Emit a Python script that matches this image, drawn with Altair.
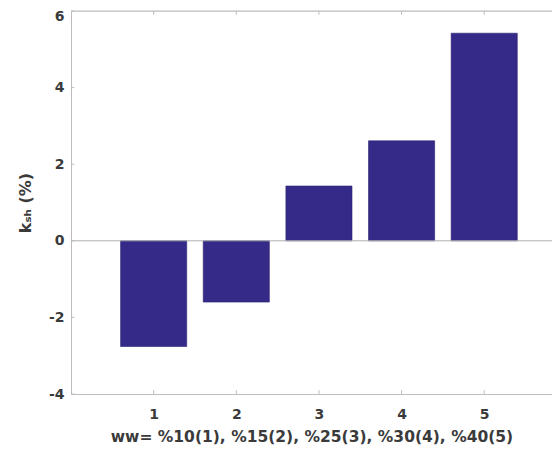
import altair as alt
import pandas as pd

categories = [1, 2, 3, 4, 5]
values = [-2.76, -1.60, 1.43, 2.61, 5.42]
y_ticks = [-4, -2, 0, 2, 4, 6]
x_ticks = [1, 2, 3, 4, 5]

XMIN, XMAX = 0, 5.82
YMIN, YMAX = -4, 6
BAR_COLOR = "#352A87"
AXIS_COLOR = "#bdbdbd"
TEXT_COLOR = "#3a3a3a"
FONT = "DejaVu Sans"

df = pd.DataFrame({"k": categories, "v": values})

xscale = alt.Scale(domain=[XMIN, XMAX], nice=False, zero=False)
yscale = alt.Scale(domain=[YMIN, YMAX], nice=False)

bars = alt.Chart(df).transform_calculate(
    x0="datum.k - 0.4", x1="datum.k + 0.4"
).mark_bar(color=BAR_COLOR, stroke="#2a2270", strokeWidth=0.6).encode(
    x=alt.X("x0:Q", scale=xscale,
            axis=alt.Axis(values=x_ticks, grid=False, ticks=False, format="d",
                          domainColor=AXIS_COLOR, labelFont=FONT,
                          labelFontSize=14, labelFontWeight="bold",
                          labelColor=TEXT_COLOR, labelPadding=13,
                          title="ww= %10(1), %15(2), %25(3), %30(4), %40(5)",
                          titleFont=FONT, titleFontSize=15.5,
                          titleFontWeight="bold", titleColor=TEXT_COLOR,
                          titlePadding=8)),
    x2="x1:Q",
    y=alt.Y("v:Q", scale=yscale,
            axis=alt.Axis(values=y_ticks, grid=False, ticks=False,
                          labelExpr="datum.value < 0 ? '-' + abs(datum.value) : '' + datum.value",
                          labelOffset={"condition": {"test": "datum.value == 6", "value": 5}, "value": 0},
                          domainColor=AXIS_COLOR, labelFont=FONT,
                          labelFontSize=14, labelFontWeight="bold",
                          labelColor=TEXT_COLOR, labelPadding=7,
                          title="kₛₕ (%)", titleFont=FONT, titleFontSize=16,
                          titleFontWeight="bold", titleColor=TEXT_COLOR,
                          titlePadding=15)),
    y2=alt.datum(0),
)

zero_df = pd.DataFrame({"a": [XMIN], "b": [XMAX], "y": [0]})
zero_line = alt.Chart(zero_df).mark_rule(color="#b0b0b0", strokeWidth=1).encode(
    x=alt.X("a:Q", scale=xscale), x2="b:Q", y=alt.Y("y:Q", scale=yscale)
)
top_df = pd.DataFrame({"a": [XMIN], "b": [XMAX], "y": [YMAX]})
top_line = alt.Chart(top_df).mark_rule(color=AXIS_COLOR, strokeWidth=1).encode(
    x=alt.X("a:Q", scale=xscale), x2="b:Q", y=alt.Y("y:Q", scale=yscale)
)

ytick_df = pd.DataFrame({"y": y_ticks, "a": [XMIN] * len(y_ticks),
                         "b": [XMIN + 0.04] * len(y_ticks)})
yticks = alt.Chart(ytick_df).mark_rule(color=AXIS_COLOR, strokeWidth=1).encode(
    x=alt.X("a:Q", scale=xscale), x2="b:Q", y=alt.Y("y:Q", scale=yscale)
)
xtick_df = pd.DataFrame({"x": x_ticks, "lo": [YMIN] * 5, "lo2": [YMIN + 0.1] * 5,
                         "hi": [YMAX] * 5, "hi2": [YMAX - 0.1] * 5})
xticks_b = alt.Chart(xtick_df).mark_rule(color=AXIS_COLOR, strokeWidth=1).encode(
    x=alt.X("x:Q", scale=xscale), y=alt.Y("lo:Q", scale=yscale), y2="lo2:Q"
)
xticks_t = alt.Chart(xtick_df).mark_rule(color=AXIS_COLOR, strokeWidth=1).encode(
    x=alt.X("x:Q", scale=xscale), y=alt.Y("hi:Q", scale=yscale), y2="hi2:Q"
)

chart = alt.layer(bars, zero_line, top_line, yticks, xticks_b, xticks_t).properties(
    width=481, height=383,
    autosize=alt.AutoSizeParams(type="none"),
    padding={"left": 63, "top": 3, "right": 0, "bottom": 60},
).configure_view(stroke=None).configure(background="white")

chart.save("out.html", embed_options={"renderer": "svg", "actions": False})
